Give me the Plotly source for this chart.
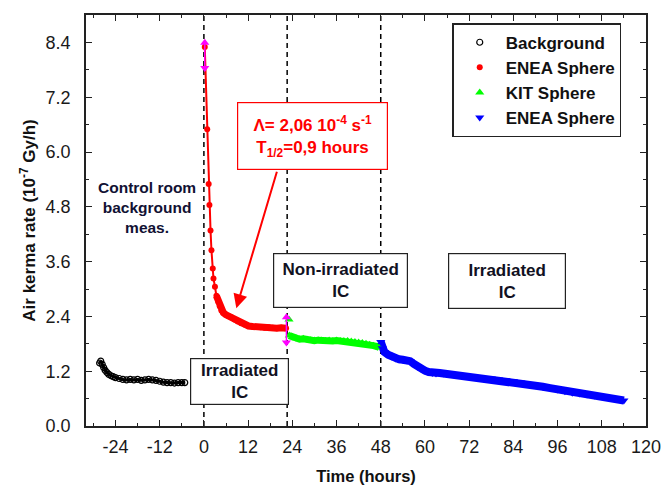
import plotly.graph_objects as go

# ---------------- data ----------------
bg_t = [-28.3, -28.0, -27.6, -27.2, -26.8, -26.3, -25.8, -25.2, -24.6, -24.0, -23.0, -22.0, -21.0,
        -20.0, -19.0, -18.0, -17.0, -16.0, -15.0, -14.0, -13.0, -12.0, -11.0, -10.0, -9.0, -8.0,
        -7.0, -6.0, -5.2]
bg_v = [1.38, 1.42, 1.35, 1.28, 1.22, 1.17, 1.13, 1.10, 1.08, 1.06, 1.04, 1.02, 1.01,
        1.02, 1.01, 1.02, 1.00, 1.01, 1.02, 1.01, 1.00, 0.98, 0.96, 0.95, 0.95, 0.94,
        0.95, 0.95, 0.95]

enea1_t = [0.24, 0.9, 1.3, 1.5, 1.8, 2.05, 2.4, 2.6, 3.0, 3.4, 3.9, 4.3, 4.75, 5.3, 5.9, 6.6,
           7.4, 8.3, 9.2, 10.1, 11.0, 12.1, 13.2, 14.3, 15.4, 16.5, 17.6, 18.7, 19.8, 21.0, 22.3]
enea1_v = [8.30, 6.50, 5.30, 4.84, 4.28, 3.85, 3.45, 3.23, 3.05, 2.85, 2.72, 2.62, 2.53, 2.48,
           2.44, 2.41, 2.38, 2.33, 2.29, 2.25, 2.22, 2.19, 2.18, 2.17, 2.16, 2.15, 2.16, 2.15,
           2.14, 2.15, 2.14]

kit_t = [23.1, 23.2, 24.0, 25.0, 26.0, 27.0, 28.0, 29.0, 30.0, 31.0, 32.0, 33.0, 34.0, 35.0,
         36.0, 37.0, 38.0, 39.0, 40.0, 41.0, 42.0, 43.0, 44.0, 45.0, 46.0, 47.0, 47.6]
kit_v = [2.33, 1.98, 1.95, 1.92, 1.90, 1.91, 1.89, 1.88, 1.87, 1.88, 1.87, 1.86, 1.87, 1.86,
         1.87, 1.86, 1.86, 1.86, 1.85, 1.84, 1.83, 1.82, 1.80, 1.78, 1.76, 1.74, 1.72]

enea2_t = [48.0, 48.4, 49.0, 50.0, 51.0, 52.0, 53.0, 54.0, 55.0, 56.0, 57.0, 58.0, 59.0, 60.0,
           61.0, 62.0, 63.0, 64.0, 65.0, 66.0, 68.0, 70.0, 72.0, 74.0, 76.0, 78.0, 80.0, 82.0,
           84.0, 86.0, 88.0, 90.0, 92.0, 94.0, 96.0, 98.0, 100.0, 102.0, 104.0, 106.0, 108.0,
           110.0, 112.0, 114.0]
enea2_v = [1.84, 1.70, 1.62, 1.56, 1.52, 1.48, 1.46, 1.45, 1.44, 1.42, 1.36, 1.30, 1.25, 1.21,
           1.18, 1.16, 1.15, 1.16, 1.15, 1.14, 1.12, 1.11, 1.09, 1.07, 1.05, 1.04, 1.02, 1.00,
           0.98, 0.95, 0.92, 0.89, 0.86, 0.83, 0.80, 0.76, 0.73, 0.71, 0.69, 0.67, 0.65,
           0.62, 0.59, 0.56]

# magenta error bars (time, upper, lower)
err_t = [0.24, 22.4]
err_hi = [8.39, 2.38]
err_lo = [7.84, 1.83]

# phase boundaries (hours)
boundaries = [0, 22.6, 48]

x_ticks = [-24, -12, 0, 12, 24, 36, 48, 60, 72, 84, 96, 108, 120]
y_ticks = [0.0, 1.2, 2.4, 3.6, 4.8, 6.0, 7.2, 8.4]

FONT = "Liberation Sans"

fig = go.Figure()

# bands (lines under markers)
fig.add_trace(go.Scatter(x=bg_t, y=bg_v, mode="lines", line=dict(color="black", width=3),
                         showlegend=False, hoverinfo="skip"))
fig.add_trace(go.Scatter(x=enea1_t, y=enea1_v, mode="lines", line=dict(color="#ff0000", width=2),
                         showlegend=False, hoverinfo="skip"))
fig.add_trace(go.Scatter(x=enea1_t[9:], y=enea1_v[9:], mode="lines", line=dict(color="#ff0000", width=7),
                         showlegend=False, hoverinfo="skip"))
fig.add_trace(go.Scatter(x=kit_t[1:], y=kit_v[1:], mode="lines", line=dict(color="#00ff00", width=7),
                         showlegend=False, hoverinfo="skip"))
fig.add_trace(go.Scatter(x=enea2_t, y=enea2_v, mode="lines", line=dict(color="#0000ff", width=8),
                         showlegend=False, hoverinfo="skip"))

# markers (legend entries)
fig.add_trace(go.Scatter(x=bg_t, y=bg_v, mode="markers", name="<b>Background</b>", legendgroup="a",
                         marker=dict(symbol="circle-open", size=6, color="black", line=dict(width=1.2))))
fig.add_trace(go.Scatter(x=enea1_t, y=enea1_v, mode="markers", name="<b>ENEA Sphere</b>", legendgroup="b",
                         marker=dict(symbol="circle", size=6, color="#ff0000")))
fig.add_trace(go.Scatter(x=kit_t, y=kit_v, mode="markers", name="<b>KIT Sphere</b>", legendgroup="c",
                         marker=dict(symbol="triangle-up", size=8, color="#00ff00")))
fig.add_trace(go.Scatter(x=enea2_t, y=enea2_v, mode="markers", name="<b>ENEA Sphere</b>", legendgroup="d",
                         marker=dict(symbol="triangle-down", size=8, color="#0000ff")))

# magenta error bars
for t, hi, lo in zip(err_t, err_hi, err_lo):
    fig.add_trace(go.Scatter(x=[t, t], y=[hi, lo], mode="lines", line=dict(color="#ff00ff", width=1.5),
                             showlegend=False, hoverinfo="skip"))
    fig.add_trace(go.Scatter(x=[t, t], y=[hi, lo], mode="markers",
                             marker=dict(symbol=["triangle-up", "triangle-down"], size=8, color="#ff00ff"),
                             showlegend=False, hoverinfo="skip"))

# dashed vertical lines
for b in boundaries:
    fig.add_shape(type="line", x0=b, x1=b, y0=0, y1=1, xref="x", yref="paper",
                  line=dict(color="black", width=1.5, dash="5px,4px"), layer="below")

ann_font = dict(family=FONT, size=17, color="#111122")

fig.add_annotation(x=-15.5, y=4.79, xref="x", yref="y", showarrow=False,
                   text="<b>Control room<br>background<br>meas.</b>",
                   font=dict(family=FONT, size=15.5, color="#111133"), align="center")

box_defs = [
    (9.76, 0.965, 97, 45, "<b>Irradiated<br>IC</b>"),
    (37.05, 3.18, 133, 53, "<b>Non-irradiated<br>IC</b>"),
    (82.3, 3.17, 116, 54, "<b>Irradiated<br>IC</b>"),
]
for bx, by, w, h, txt in box_defs:
    fig.add_annotation(x=bx, y=by, xref="x", yref="y", showarrow=False, text=txt,
                       font=ann_font, align="center", width=w, height=h, borderpad=0,
                       bordercolor="#222222", borderwidth=1.2, bgcolor="white")

fig.add_annotation(x=29.6, y=6.35, xref="x", yref="y", showarrow=False,
                   text="<b>Λ= 2,06 10<sup>-4</sup> s<sup>-1</sup><br>T<sub>1/2</sub>=0,9 hours</b>",
                   font=dict(family=FONT, size=17, color="#ff0000"), align="center",
                   width=149, height=66, borderpad=0, bordercolor="#ff0000", borderwidth=1.2,
                   bgcolor="white")

fig.add_annotation(x=8.8, y=2.58, xref="x", yref="y", ax=41, ay=-138, text="",
                   showarrow=True, arrowhead=2, arrowsize=1.4, arrowwidth=2, arrowcolor="#ff0000")

axis_common = dict(showline=True, linecolor="#222222", linewidth=1.5, mirror="ticks",
                   ticks="inside", ticklen=6, tickcolor="#222222", tickwidth=1.2,
                   showgrid=False, zeroline=False, automargin=False,
                   ticklabeloverflow="allow",
                   tickfont=dict(family=FONT, size=18, color="#1a1a1a"))

fig.update_xaxes(range=[-32, 120], tickvals=x_ticks, ticktext=[str(v) for v in x_ticks],
                 minor=dict(dtick=6, tick0=0, ticks="inside", ticklen=3, tickcolor="#222222"),
                 ticklabelstandoff=4,
                 title=dict(text="<b>Time (hours)</b>", font=dict(family=FONT, size=16.5, color="#111111"),
                            standoff=14),
                 **axis_common)
fig.update_yaxes(range=[0, 9.0], tickvals=y_ticks, ticktext=[f"{v:.1f}" for v in y_ticks],
                 minor=dict(dtick=0.6, tick0=0, ticks="inside", ticklen=3, tickcolor="#222222"),
                 ticklabelstandoff=10,
                 title=dict(text="<b>Air kerma rate (10<sup>-7</sup> Gy/h)</b>",
                            font=dict(family=FONT, size=17, color="#111111"), standoff=6),
                 **axis_common)

fig.update_layout(
    width=662, height=488,
    margin=dict(l=86, r=16, t=15, b=62),
    plot_bgcolor="white", paper_bgcolor="white",
    legend=dict(x=0.654, y=0.98, xanchor="left", yanchor="top",
                bordercolor="#222222", borderwidth=1.5, bgcolor="white",
                font=dict(family=FONT, size=17, color="#111111"),
                traceorder="grouped", tracegroupgap=0, itemwidth=42),
    font=dict(family=FONT),
)

fig.write_html("out.html", config={"displayModeBar": False},
               post_script="document.body.style.margin='0';document.body.style.overflow='hidden';")
